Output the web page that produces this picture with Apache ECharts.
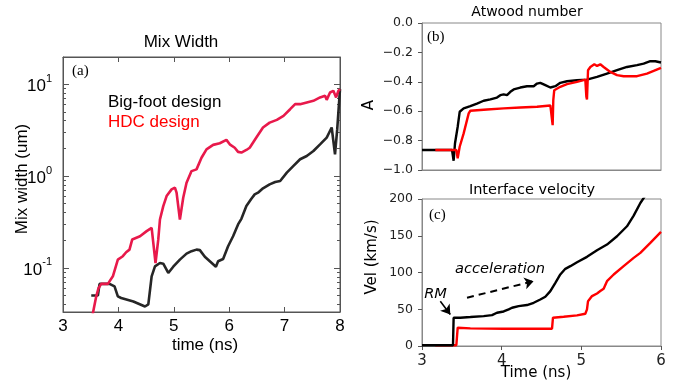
<!DOCTYPE html>
<html><head><meta charset="utf-8">
<script src="https://cdn.jsdelivr.net/npm/echarts@6/dist/echarts.min.js"></script>
<style>html,body{margin:0;padding:0;background:#fff}#c{width:674px;height:388px}</style>
</head><body><div id="c"></div>
<script>
// ---- Panel (a): Mix width (um) vs time (ns) ----
const bigfootT = [3.51,3.63,3.66,3.84,3.93,3.99,4.05,4.27,4.48,4.54,4.60,4.66,4.75,4.81,4.90,4.99,5.11,5.23,5.32,5.41,5.47,5.56,5.76,5.80,5.89,5.98,6.07,6.16,6.22,6.31,6.40,6.46,6.52,6.61,6.73,6.83,6.92,7.04,7.16,7.28,7.40,7.52,7.64,7.76,7.85,7.91,7.95,8.0];
const bigfootW = [0.050,0.050,0.067,0.067,0.063,0.049,0.047,0.043,0.038,0.040,0.081,0.104,0.113,0.111,0.088,0.103,0.123,0.143,0.152,0.158,0.156,0.132,0.103,0.118,0.125,0.172,0.221,0.297,0.342,0.471,0.566,0.631,0.658,0.734,0.811,0.86,0.882,1.087,1.286,1.52,1.65,1.87,2.21,2.62,3.37,1.72,3.23,8.8];
const hdcT = [3.53,3.60,3.64,3.69,3.81,3.90,3.99,4.08,4.14,4.20,4.25,4.39,4.51,4.60,4.63,4.67,4.72,4.75,4.81,4.87,4.96,5.02,5.05,5.11,5.13,5.17,5.23,5.32,5.41,5.50,5.59,5.71,5.83,5.95,6.01,6.10,6.16,6.22,6.31,6.37,6.40,6.49,6.61,6.73,6.86,6.98,7.10,7.19,7.28,7.40,7.52,7.64,7.73,7.76,7.82,7.88,7.93,7.97,8.0];
const hdcW = [0.030,0.049,0.060,0.067,0.067,0.081,0.123,0.134,0.148,0.158,0.204,0.221,0.251,0.273,0.270,0.113,0.204,0.336,0.47,0.605,0.715,0.746,0.658,0.336,0.32,0.58,0.845,1.13,1.18,1.58,1.95,2.18,2.27,2.47,2.21,2.03,1.83,1.80,1.92,2.03,2.0,2.62,3.37,3.81,4.08,4.51,5.33,6.05,6.05,6.31,6.58,7.16,7.46,6.74,8.1,8.44,7.16,8.44,8.8];
const mixMin = 0.0331, mixMax = 19.72;
const mixMinorTicks = [0.04,0.05,0.06,0.07,0.08,0.09,0.2,0.3,0.4,0.5,0.6,0.7,0.8,0.9,2,3,4,5,6,7,8,9];

// ---- Panel (b): Atwood number ----
const atBlackT = [3.0,3.377,3.397,3.414,3.448,3.473,3.523,3.607,3.69,3.774,3.858,3.941,3.983,4.025,4.067,4.109,4.151,4.234,4.318,4.402,4.444,4.485,4.548,4.611,4.674,4.736,4.82,4.946,5.07,5.197,5.322,5.448,5.573,5.699,5.782,5.866,5.929,6.0];
const atBlackA = [-0.864,-0.864,-0.937,-0.82,-0.706,-0.604,-0.581,-0.566,-0.548,-0.529,-0.52,-0.507,-0.491,-0.486,-0.491,-0.468,-0.452,-0.439,-0.43,-0.43,-0.412,-0.407,-0.423,-0.439,-0.43,-0.407,-0.396,-0.389,-0.385,-0.367,-0.344,-0.321,-0.299,-0.287,-0.276,-0.26,-0.26,-0.269];
const atRedT = [3.167,3.431,3.448,3.473,3.523,3.586,3.607,3.816,4.025,4.234,4.444,4.611,4.632,4.64,4.648,4.66,4.736,4.82,4.946,5.05,5.063,5.071,5.084,5.113,5.163,5.197,5.238,5.28,5.364,5.448,5.531,5.699,5.824,5.908,6.0];
const atRedA = [-0.864,-0.864,-0.921,-0.842,-0.751,-0.615,-0.597,-0.588,-0.581,-0.575,-0.57,-0.561,-0.566,-0.695,-0.525,-0.457,-0.434,-0.416,-0.4,-0.385,-0.502,-0.52,-0.321,-0.299,-0.281,-0.292,-0.281,-0.299,-0.333,-0.355,-0.362,-0.362,-0.344,-0.326,-0.305];

// ---- Panel (c): Interface velocity (km/s) ----
const velBlackT = [3.0,3.389,3.397,3.481,3.607,3.774,3.879,3.941,4.025,4.088,4.13,4.213,4.318,4.402,4.485,4.548,4.611,4.674,4.736,4.799,4.862,4.946,5.071,5.197,5.322,5.448,5.573,5.657,5.741,5.824];
const velBlackV = [1,1,38.5,38.5,39.4,40.7,42,45.2,47,49.8,52,54.3,55.7,58.8,63.3,67,74.7,86,97.3,105,108.6,114,121.3,130.3,138,149.3,162.9,177.4,194.6,208];
const velRedT = [3.167,3.431,3.448,3.607,4.025,4.444,4.632,4.644,4.778,4.946,5.05,5.071,5.084,5.134,5.197,5.238,5.28,5.322,5.406,5.531,5.657,5.741,5.866,6.0];
const velRedV = [1,1,24.9,24,23.5,23.5,23.5,38.5,39.8,41.6,43.9,49.8,61,67.9,71.5,74.7,77.8,88.2,97.3,108.6,119.9,126.7,140.3,155.2];

const zip = (a, b) => a.map((v, i) => [v, b[i]]);

const SANS = 'Liberation Sans';
const MPL = 'DejaVu Sans';
const chart = echarts.init(document.getElementById('c'), null, {renderer: 'canvas'});

const logLabel = {
  show: true, margin: 11, color: '#000', showMinLabel: false, showMaxLabel: false,
  formatter: v => '{b|10}{s|' + Math.round(Math.log10(v)) + '}',
  rich: {
    b: {fontSize: 17, fontFamily: SANS, color: '#000', lineHeight: 22, verticalAlign: 'bottom'},
    s: {fontSize: 11, fontFamily: SANS, color: '#000', lineHeight: 22, verticalAlign: 'top'}
  }
};
const logBase = {type: 'log', gridIndex: 0, min: mixMin, max: mixMax, logBase: 10,
  splitLine: {show: false}, axisLine: {show: true, onZero: false, lineStyle: {color: '#555', width: 1}}};
// minor log ticks: placed on a linear axis spanning log10 of the same extent
const minorAxis = pos => ({type: 'value', gridIndex: 0, position: pos,
  min: Math.log10(mixMin), max: Math.log10(mixMax),
  splitLine: {show: false}, axisLine: {show: false, onZero: false}, axisLabel: {show: false},
  axisTick: {show: true, inside: true, length: 3, lineStyle: {color: '#555'},
    customValues: mixMinorTicks.map(v => Math.log10(v))}});

const mplY = (grid, min, max, interval, fmt) => ({
  type: 'value', gridIndex: grid, min, max, interval,
  splitLine: {show: false},
  axisLine: {show: true, onZero: false, lineStyle: {color: '#888', width: 1}},
  axisTick: {show: true, inside: false, length: 4, lineStyle: {color: '#555'}},
  axisLabel: {show: true, margin: 9, fontSize: 12.5, fontFamily: MPL, color: '#222', formatter: fmt}
});

const option = {
  animation: false,
  backgroundColor: '#fff',
  grid: [
    {left: 63, top: 57, width: 277, height: 255, show: true, borderColor: '#555', borderWidth: 1, backgroundColor: 'transparent'},
    {left: 422, top: 23, width: 239, height: 147, show: true, borderColor: '#888', borderWidth: 1, backgroundColor: 'transparent'},
    {left: 422, top: 199, width: 239, height: 147, show: true, borderColor: '#888', borderWidth: 1, backgroundColor: 'transparent'}
  ],
  xAxis: [
    {type: 'value', gridIndex: 0, min: 3, max: 8, interval: 1, position: 'bottom',
      splitLine: {show: false}, axisLine: {onZero: false, lineStyle: {color: '#555'}},
      axisTick: {inside: true, length: 5, lineStyle: {color: '#555'}},
      axisLabel: {margin: 6, fontSize: 17, fontFamily: SANS, color: '#000'}},
    {type: 'value', gridIndex: 0, min: 3, max: 8, interval: 1, position: 'top',
      splitLine: {show: false}, axisLine: {onZero: false, lineStyle: {color: '#555'}},
      axisTick: {inside: true, length: 5, lineStyle: {color: '#555'}}, axisLabel: {show: false}},
    {type: 'value', gridIndex: 1, min: 3, max: 6, interval: 1,
      splitLine: {show: false}, axisLine: {onZero: false, lineStyle: {color: '#888'}},
      axisTick: {show: false}, axisLabel: {show: false}},
    {type: 'value', gridIndex: 2, min: 3, max: 6, interval: 1,
      splitLine: {show: false}, axisLine: {onZero: false, lineStyle: {color: '#888'}},
      axisTick: {show: true, length: 4, lineStyle: {color: '#555'}},
      axisLabel: {margin: 8, fontSize: 15, fontFamily: MPL, color: '#222'}}
  ],
  yAxis: [
    Object.assign({}, logBase, {position: 'left', axisTick: {inside: true, length: 6, lineStyle: {color: '#555'}}, axisLabel: logLabel}),
    minorAxis('left'),
    Object.assign({}, logBase, {position: 'right', axisTick: {inside: true, length: 6, lineStyle: {color: '#555'}}, axisLabel: {show: false}}),
    minorAxis('right'),
    mplY(1, -1, 0, 0.2, v => (Math.abs(v) < 1e-9 ? '0.0' : v.toFixed(1).replace('-', '\u2212'))),
    mplY(2, 0, 200, 50, v => String(v))
  ],
  series: [
    {type: 'line', xAxisIndex: 0, yAxisIndex: 0, data: zip(bigfootT, bigfootW), showSymbol: false, clip: true,
      lineStyle: {color: '#262626', width: 2.6}},
    {type: 'line', xAxisIndex: 0, yAxisIndex: 0, data: zip(hdcT, hdcW), showSymbol: false, clip: true,
      lineStyle: {color: '#e8194b', width: 2.6}},
    {type: 'line', xAxisIndex: 2, yAxisIndex: 4, data: zip(atBlackT, atBlackA), showSymbol: false, clip: true,
      lineStyle: {color: '#000', width: 2.4}},
    {type: 'line', xAxisIndex: 2, yAxisIndex: 4, data: zip(atRedT, atRedA), showSymbol: false, clip: true,
      lineStyle: {color: '#f00', width: 2.4}},
    {type: 'line', xAxisIndex: 3, yAxisIndex: 5, data: zip(velRedT, velRedV), showSymbol: false, clip: true,
      lineStyle: {color: '#f00', width: 2.4}},
    {type: 'line', xAxisIndex: 3, yAxisIndex: 5, data: zip(velBlackT, velBlackV), showSymbol: false, clip: true,
      lineStyle: {color: '#000', width: 2.4},
      markLine: {silent: true, animation: false, symbol: ['none', 'arrow'], symbolSize: 9,
        label: {show: false}, lineStyle: {color: '#000', width: 1.6, type: 'solid'},
        data: [
          [{coord: [3.23, 61]}, {coord: [3.355, 43]}],
          [{coord: [3.565, 65.7], lineStyle: {type: [7, 5], width: 2}}, {coord: [4.40, 88.2]}]
        ]}}
  ],
  graphic: []
};
chart.setOption(option);

const txt = (text, x, y, o) => Object.assign({type: 'text', x, y, silent: true,
  style: Object.assign({text, fill: '#000', align: 'center', verticalAlign: 'middle', fontFamily: SANS, fontSize: 17}, o && o.style || {})},
  o && o.rotation ? {rotation: o.rotation} : {});

const p1 = chart.convertToPixel({gridIndex: 2}, [3.98, 104]);
const p2 = chart.convertToPixel({gridIndex: 2}, [3.17, 71]);

chart.setOption({graphic: [
  txt('Mix Width', 181, 42, {style: {fontSize: 17}}),
  txt('Big-foot design', 108, 102, {style: {align: 'left', fontSize: 17}}),
  txt('HDC design', 108, 122, {style: {align: 'left', fontSize: 17, fill: '#ff0000'}}),
  txt('(a)', 72, 71, {style: {align: 'left', fontSize: 15, fontFamily: 'Liberation Serif'}}),
  txt('Mix width (um)', 22, 179, {rotation: Math.PI / 2, style: {fontSize: 17}}),
  txt('time (ns)', 205, 345, {style: {fontSize: 17}}),
  txt('Atwood number', 527, 12, {style: {fontSize: 14, fontFamily: MPL}}),
  txt('A', 369, 105, {rotation: Math.PI / 2, style: {fontSize: 15, fontFamily: MPL}}),
  txt('(b)', 427, 37, {style: {align: 'left', fontSize: 15, fontFamily: 'Liberation Serif'}}),
  txt('Interface velocity', 532, 190, {style: {fontSize: 14.5, fontFamily: MPL}}),
  txt('Vel (km/s)', 372, 257, {rotation: Math.PI / 2, style: {fontSize: 15, fontFamily: MPL}}),
  txt('Time (ns)', 536, 373, {style: {fontSize: 15, fontFamily: MPL}}),
  txt('(c)', 429, 215, {style: {align: 'left', fontSize: 15, fontFamily: 'Liberation Serif'}}),
  txt('acceleration', p1[0], p1[1], {style: {fontSize: 14.6, fontFamily: MPL, fontStyle: 'italic'}}),
  txt('RM', p2[0], p2[1], {style: {fontSize: 14.6, fontFamily: MPL, fontStyle: 'italic'}})
]});
</script></body></html>
